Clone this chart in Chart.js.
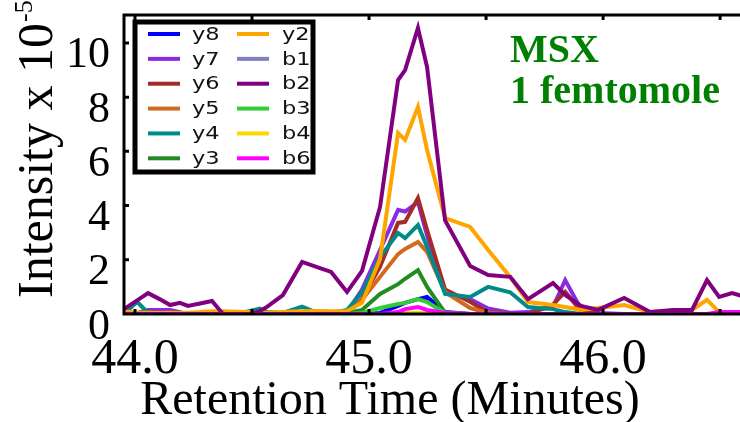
<!DOCTYPE html>
<html>
<head>
<meta charset="utf-8">
<script src="https://cdn.jsdelivr.net/npm/chart.js@4.4.0/dist/chart.umd.min.js"></script>
<style>
  html, body { margin: 0; padding: 0; background: #ffffff; }
  #wrap { width: 740px; height: 422px; }
</style>
</head>
<body>
<div id="wrap"><canvas id="xic" width="740" height="422"></canvas></div>
<script>
// Retention times of the MS scans (minutes)
const retentionTimes = [
  43.953, 44.009, 44.056, 44.107, 44.150, 44.192, 44.226, 44.278, 44.329, 44.376,
  44.436, 44.491, 44.534, 44.564, 44.632, 44.714, 44.778, 44.838, 44.906, 44.970,
  45.047, 45.124, 45.154, 45.209, 45.248, 45.325, 45.432, 45.509, 45.603, 45.679,
  45.786, 45.838, 45.906, 45.979, 46.090, 46.201, 46.299, 46.380, 46.444, 46.496,
  46.551, 46.607
];

// Extracted ion intensities (x 10^-5), one value per scan
const y8 = [
  0, 0, 0, 0, 0, 0, 0, 0, 0, 0,
  0, 0, 0, 0, 0, 0, 0, 0, 0, 0,
  0.04, 0.30, 0.41, 0.55, 0.63, 0.07, 0, 0, 0, 0,
  0, 0, 0, 0, 0, 0, 0, 0, 0, 0,
  0, 0
];
const y7 = [
  0, 0.04, 0.15, 0.15, 0.15, 0.07, 0, 0, 0, 0,
  0, 0, 0, 0, 0, 0, 0, 0, 0.07, 0.90,
  2.36, 3.84, 3.78, 4.13, 2.90, 0.77, 0.55, 0.20, 0.05, 0.07,
  0.26, 1.25, 0.18, 0.04, 0, 0, 0, 0, 0, 0,
  0, 0
];
const y6 = [
  0, 0, 0, 0, 0, 0, 0, 0, 0, 0,
  0, 0, 0, 0, 0, 0, 0, 0, 0.07, 0.55,
  1.75, 3.36, 3.40, 4.28, 3.10, 0.90, 0.45, 0.05, 0, 0,
  0.35, 0.82, 0.10, 0, 0, 0, 0, 0, 0, 0,
  0, 0
];
const y5 = [
  0, 0, 0, 0, 0, 0, 0, 0, 0, 0,
  0, 0, 0, 0, 0, 0, 0, 0, 0.07, 0.52,
  1.37, 2.21, 2.40, 2.66, 2.29, 0.81, 0.22, 0.04, 0, 0,
  0, 0, 0, 0, 0, 0, 0, 0, 0, 0,
  0, 0
];
const y4 = [
  0, 0.45, 0.04, 0, 0, 0, 0, 0.04, 0, 0,
  0, 0.11, 0.20, 0.07, 0.04, 0.27, 0.04, 0.04, 0.15, 0.80,
  2.10, 2.99, 2.80, 3.28, 2.47, 0.74, 0.63, 1.00, 0.80, 0.26,
  0.18, 0.07, 0, 0, 0, 0, 0, 0, 0, 0,
  0, 0
];
const y3 = [
  0, 0, 0, 0, 0, 0, 0, 0, 0, 0,
  0, 0, 0, 0, 0, 0, 0, 0, 0.04, 0.15,
  0.74, 1.10, 1.30, 1.62, 1.00, 0.04, 0, 0, 0, 0,
  0, 0, 0, 0, 0, 0, 0, 0, 0, 0,
  0, 0
];
const y2 = [
  0.10, 0.05, 0.05, 0.04, 0.05, 0.04, 0.05, 0.07, 0.10, 0.10,
  0.08, 0.07, 0.05, 0.05, 0.07, 0.10, 0.11, 0.10, 0.11, 0.41,
  2.03, 6.68, 6.42, 7.64, 6.05, 3.54, 3.21, 2.36, 1.37, 0.44,
  0.33, 0.26, 0.15, 0.22, 0.33, 0.07, 0.10, 0.15, 0.52, 0.07,
  0, 0
];
const b1 = [
  0, 0, 0, 0, 0, 0, 0, 0, 0, 0,
  0, 0, 0, 0, 0, 0, 0, 0, 0, 0,
  0, 0, 0, 0.04, 0, 0, 0, 0, 0, 0,
  0, 0, 0, 0, 0, 0, 0, 0, 0, 0,
  0, 0
];
const b2 = [
  0.18, 0.50, 0.77, 0.54, 0.33, 0.41, 0.30, 0.39, 0.48, 0,
  0, 0, 0.11, 0.26, 0.70, 1.92, 1.73, 1.55, 0.81, 1.59,
  3.95, 8.63, 9.00, 10.55, 9.11, 3.45, 1.77, 1.44, 1.37, 0.55,
  1.14, 0.70, 0.30, 0.15, 0.59, 0.07, 0.15, 0.15, 1.25, 0.63,
  0.77, 0.63
];
const b3 = [
  0, 0, 0, 0, 0, 0, 0, 0, 0, 0,
  0, 0, 0, 0, 0, 0, 0, 0, 0, 0.04,
  0.22, 0.37, 0.41, 0.55, 0.44, 0.04, 0, 0, 0, 0,
  0, 0, 0, 0, 0, 0, 0, 0, 0, 0,
  0, 0
];
const b4 = [
  0, 0, 0, 0, 0, 0, 0, 0, 0, 0,
  0, 0, 0, 0, 0, 0, 0, 0, 0, 0,
  0, 0, 0.04, 0.05, 0.03, 0, 0, 0, 0, 0,
  0, 0, 0, 0, 0, 0, 0, 0, 0, 0,
  0, 0
];
const b6 = [
  0, 0, 0, 0, 0, 0, 0, 0, 0, 0,
  0, 0, 0, 0, 0, 0, 0, 0, 0, 0,
  0, 0.07, 0.18, 0.26, 0.15, 0.04, 0, 0, 0, 0,
  0, 0, 0, 0, 0, 0, 0, 0, 0, 0.07,
  0.07, 0.07
];

const ionLabels = ['y8', 'y7', 'y6', 'y5', 'y4', 'y3', 'y2', 'b1', 'b2', 'b3', 'b4', 'b6'];
const ionSeries = [y8, y7, y6, y5, y4, y3, y2, b1, b2, b3, b4, b6];
const ionColors = ['#0000ff', '#8a2be2', '#a52a2a', '#d2691e', '#008b8b', '#228b22',
                   '#ffa500', '#8080c0', '#800080', '#32cd32', '#ffd700', '#ff00ff'];

const xTickValues = [44.0, 44.5, 45.0, 45.5, 46.0, 46.5];
const yTickValues = [0, 2, 4, 6, 8, 10];
const xRange = [43.953, 46.585];
const yRange = [0, 11.03];

const SERIF = "'Liberation Serif', 'Times New Roman', 'DejaVu Serif', serif";
const SANS = "'DejaVu Sans', Verdana, sans-serif";

// Box frame with inward tick marks, boxed legend, axis titles and the sample label
const decorations = {
  id: 'decorations',
  afterDatasetsDraw(chart) {
    const { ctx, chartArea: a, scales: { x, y } } = chart;
    ctx.save();
    ctx.strokeStyle = '#000';
    ctx.lineWidth = 3;
    ctx.lineCap = 'butt';
    ctx.beginPath();
    ctx.moveTo(a.left, a.top - 1.5); ctx.lineTo(a.left, a.bottom + 1.5);
    ctx.moveTo(a.left - 1.5, a.top); ctx.lineTo(a.right, a.top);
    ctx.moveTo(a.left - 1.5, a.bottom); ctx.lineTo(a.right, a.bottom);
    xTickValues.forEach(v => {
      const px = x.getPixelForValue(v);
      ctx.moveTo(px, a.bottom); ctx.lineTo(px, a.bottom - 5);
      ctx.moveTo(px, a.top); ctx.lineTo(px, a.top + 5);
    });
    yTickValues.forEach(v => {
      const py = y.getPixelForValue(v);
      ctx.moveTo(a.left, py); ctx.lineTo(a.left + 5, py);
    });
    ctx.stroke();

    // legend box
    const bx = 135, by = 22, bw = 178, bh = 150;
    ctx.fillStyle = '#fff';
    ctx.fillRect(bx, by, bw, bh);
    ctx.lineWidth = 5;
    ctx.strokeRect(bx, by, bw, bh);
    ctx.font = '18px ' + SANS;
    ctx.textBaseline = 'middle';
    ctx.textAlign = 'left';
    ionLabels.forEach((name, i) => {
      const col = i < 6 ? 0 : 1;
      const row = i % 6;
      const ry = 34 + row * 24.86;
      const sx = col === 0 ? 148 : 237;
      const tx = col === 0 ? 192 : 282;
      ctx.strokeStyle = ionColors[i];
      ctx.lineWidth = 4;
      ctx.beginPath();
      ctx.moveTo(sx, ry); ctx.lineTo(sx + 32, ry);
      ctx.stroke();
      ctx.save();
      ctx.translate(tx, ry + 1);
      ctx.scale(1.25, 1);
      ctx.fillStyle = '#111';
      ctx.fillText(name, 0, 0);
      ctx.restore();
    });

    // sample label
    ctx.fillStyle = '#008000';
    ctx.font = 'bold 40px ' + SERIF;
    ctx.textBaseline = 'alphabetic';
    ctx.fillText('MSX', 510, 62);
    ctx.fillText('1 femtomole', 510, 103);

    // axis titles
    ctx.fillStyle = '#000';
    ctx.font = '48px ' + SERIF;
    ctx.textAlign = 'center';
    ctx.fillText('Retention Time (Minutes)', 390, 414);

    ctx.save();
    ctx.translate(52, 298);
    ctx.rotate(-Math.PI / 2);
    ctx.textAlign = 'left';
    ctx.font = '50px ' + SERIF;
    const main = 'Intensity x 10';
    ctx.fillText(main, 0, 0);
    const w = ctx.measureText(main).width;
    ctx.font = '26px ' + SERIF;
    ctx.fillText('-5', w + 1, -20);
    ctx.restore();

    ctx.restore();
  }
};

new Chart(document.getElementById('xic'), {
  type: 'line',
  data: {
    datasets: ionLabels.map((name, i) => ({
      label: name,
      data: retentionTimes.map((t, k) => ({ x: t, y: ionSeries[i][k] })),
      borderColor: ionColors[i],
      backgroundColor: ionColors[i],
      borderWidth: 4,
      pointRadius: 0,
      tension: 0,
      fill: false,
      order: ionLabels.length - 1 - i
    }))
  },
  options: {
    responsive: false,
    animation: false,
    devicePixelRatio: 1,
    layout: { padding: { top: 15, left: 0, right: 0, bottom: 0 } },
    plugins: { legend: { display: false }, tooltip: { enabled: false } },
    scales: {
      x: {
        type: 'linear',
        min: xRange[0],
        max: xRange[1],
        border: { display: false },
        grid: { display: false, drawTicks: false },
        afterBuildTicks: s => { s.ticks = xTickValues.map(v => ({ value: v })); },
        afterFit: s => { s.height = 108; s.paddingLeft = 0; s.paddingRight = 0; },
        ticks: {
          callback: v => (Math.abs(v - Math.round(v)) < 1e-9 ? Number(v).toFixed(1) : ''),
          font: { size: 50, family: SERIF },
          color: '#000',
          padding: 16,
          maxRotation: 0,
          autoSkip: false
        }
      },
      y: {
        type: 'linear',
        min: yRange[0],
        max: yRange[1],
        border: { display: false },
        grid: { display: false, drawTicks: false },
        afterBuildTicks: s => { s.ticks = yTickValues.map(v => ({ value: v })); },
        afterFit: s => { s.width = 124; s.paddingTop = 0; s.paddingBottom = 0; },
        ticks: {
          callback: v => String(v),
          font: { size: 44, family: SERIF },
          color: '#000',
          padding: 14,
          labelOffset: 13,
          autoSkip: false
        }
      }
    }
  },
  plugins: [decorations]
});
</script>
</body>
</html>
